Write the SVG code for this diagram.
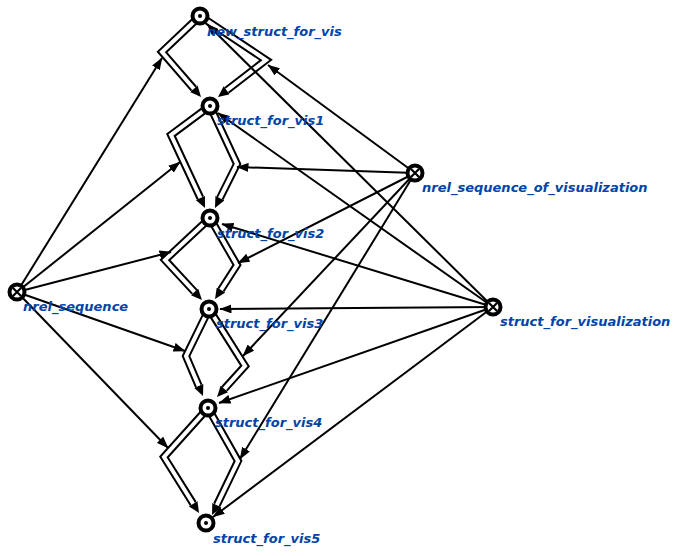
<svg xmlns="http://www.w3.org/2000/svg" width="678" height="556" viewBox="0 0 678 556">
<style>
.ln{fill:none;stroke:#000;stroke-width:2}
.dk{fill:none;stroke:#000;stroke-width:8;stroke-linejoin:miter}
.dw{fill:none;stroke:#fff;stroke-width:4;stroke-linejoin:miter}
.nd{fill:#fff;stroke:#000;stroke-width:4}
.dot{fill:#000}
.x{stroke:#000;stroke-width:2.2}
.lb{font-family:"DejaVu Sans",sans-serif;font-size:13px;font-weight:bold;font-style:italic;fill:#0044aa}
</style>
<defs>
<marker id="arr" markerUnits="userSpaceOnUse" markerWidth="12" markerHeight="9" viewBox="0 0 12 9" refX="11.5" refY="4.5" orient="auto"><path d="M0,0 L12,4.5 L0,9 z" fill="#000"/></marker>
<marker id="arrD" markerUnits="userSpaceOnUse" markerWidth="11" markerHeight="10" viewBox="0 0 11 10" refX="0" refY="5" orient="auto"><path d="M0,0 L11,5 L0,10 z" fill="#000"/></marker>
</defs>
<g id="connectors">
<g id="common-arcs">
<path class="dk" marker-end="url(#arrD)" d="M200,16 L162,52 L193.8,88.7"/><path class="dw" d="M200,16 L162,52 L193.8,88.7"/>
<path class="dk" marker-end="url(#arrD)" d="M200,16 L266,60 L226.7,90.3"/><path class="dw" d="M200,16 L266,60 L226.7,90.3"/>
<path class="dk" marker-end="url(#arrD)" d="M210,106 L171,135 L200.4,198"/><path class="dw" d="M210,106 L171,135 L200.4,198"/>
<path class="dk" marker-end="url(#arrD)" d="M210,106 L237,164 L219.9,198.2"/><path class="dw" d="M210,106 L237,164 L219.9,198.2"/>
<path class="dk" marker-end="url(#arrD)" d="M210,218 L165,260 L194.5,291.9"/><path class="dw" d="M210,218 L165,260 L194.5,291.9"/>
<path class="dk" marker-end="url(#arrD)" d="M210,218 L237,265 L221,289.8"/><path class="dw" d="M210,218 L237,265 L221,289.8"/>
<path class="dk" marker-end="url(#arrD)" d="M209,309 L186,356 L198.7,385.9"/><path class="dw" d="M209,309 L186,356 L198.7,385.9"/>
<path class="dk" marker-end="url(#arrD)" d="M209,309 L245,366 L224.4,388.8"/><path class="dw" d="M209,309 L245,366 L224.4,388.8"/>
<path class="dk" marker-end="url(#arrD)" d="M208,408 L164,457 L193.2,503.7"/><path class="dw" d="M208,408 L164,457 L193.2,503.7"/>
<path class="dk" marker-end="url(#arrD)" d="M208,408 L238,461 L216.8,505.1"/><path class="dw" d="M208,408 L238,461 L216.8,505.1"/>
</g>
<g id="arcs">
<path class="ln" marker-end="url(#arr)" d="M17,292 L162,58"/>
<path class="ln" marker-end="url(#arr)" d="M17,292 L180,162"/>
<path class="ln" marker-end="url(#arr)" d="M17,292 L171,252"/>
<path class="ln" marker-end="url(#arr)" d="M17,292 L185,351"/>
<path class="ln" marker-end="url(#arr)" d="M17,292 L168,448"/>
<path class="ln" marker-end="url(#arr)" d="M415,173 L268,65"/>
<path class="ln" marker-end="url(#arr)" d="M415,173 L237,167"/>
<path class="ln" marker-end="url(#arr)" d="M415,173 L238,263"/>
<path class="ln" marker-end="url(#arr)" d="M415,173 L243,356"/>
<path class="ln" marker-end="url(#arr)" d="M415,173 L240,459"/>
<path class="ln" marker-end="url(#arr)" d="M493,307 L207,24"/>
<path class="ln" marker-end="url(#arr)" d="M493,307 L218,113"/>
<path class="ln" marker-end="url(#arr)" d="M493,307 L222,224"/>
<path class="ln" marker-end="url(#arr)" d="M493,307 L220,309"/>
<path class="ln" marker-end="url(#arr)" d="M493,307 L219,403"/>
<path class="ln" marker-end="url(#arr)" d="M493,307 L213,517"/>
</g>
</g>
<g id="new_struct_for_vis"><circle class="nd" cx="200" cy="16" r="7.5"/><circle class="dot" cx="200" cy="16" r="2"/><text class="lb" x="207" y="36">new_struct_for_vis</text></g>
<g id="struct_for_vis1"><circle class="nd" cx="210" cy="106" r="7.5"/><circle class="dot" cx="210" cy="106" r="2"/><text class="lb" x="217" y="125">struct_for_vis1</text></g>
<g id="struct_for_vis2"><circle class="nd" cx="210" cy="218" r="7.5"/><circle class="dot" cx="210" cy="218" r="2"/><text class="lb" x="217" y="238">struct_for_vis2</text></g>
<g id="struct_for_vis3"><circle class="nd" cx="209" cy="309" r="7.5"/><circle class="dot" cx="209" cy="309" r="2"/><text class="lb" x="216" y="328">struct_for_vis3</text></g>
<g id="struct_for_vis4"><circle class="nd" cx="208" cy="408" r="7.5"/><circle class="dot" cx="208" cy="408" r="2"/><text class="lb" x="215" y="427">struct_for_vis4</text></g>
<g id="struct_for_vis5"><circle class="nd" cx="206" cy="523" r="7.5"/><circle class="dot" cx="206" cy="523" r="2"/><text class="lb" x="213" y="543">struct_for_vis5</text></g>
<g id="nrel_sequence"><circle class="nd" cx="17" cy="292" r="7.5"/><path class="x" d="M13,288 L21,296 M21,288 L13,296"/><text class="lb" x="23" y="311">nrel_sequence</text></g>
<g id="nrel_sequence_of_visualization"><circle class="nd" cx="415" cy="173" r="7.5"/><path class="x" d="M411,169 L419,177 M419,169 L411,177"/><text class="lb" x="422" y="192">nrel_sequence_of_visualization</text></g>
<g id="struct_for_visualization"><circle class="nd" cx="493" cy="307" r="7.5"/><path class="x" d="M489,303 L497,311 M497,303 L489,311"/><text class="lb" x="500" y="326">struct_for_visualization</text></g>
</svg>
